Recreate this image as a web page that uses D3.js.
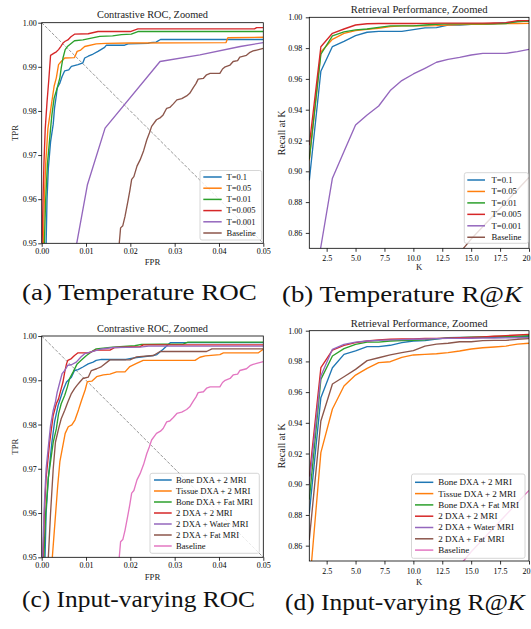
<!DOCTYPE html>
<html><head><meta charset="utf-8">
<script src="https://cdn.jsdelivr.net/npm/d3@7"></script>
<style>body{margin:0;background:#fff;} svg{display:block;} svg text{font-family:"Liberation Serif","Times New Roman",serif;}</style>
</head><body>
<script>
// ---------- DATA ----------
// Panel (a) Temperature ROC: [FPR, TPR]
const rocT01 = [[0.0009,0.94],[0.001,0.95],[0.0012,0.96],[0.0015,0.967],[0.002,0.973],[0.0026,0.977],[0.0029,0.9807],[0.0033,0.9835],[0.0035,0.9852],[0.0041,0.9863],[0.0046,0.9878],[0.0052,0.9891],[0.0061,0.9893],[0.0067,0.9901],[0.0082,0.9905],[0.0093,0.9909],[0.0097,0.992],[0.0105,0.9924],[0.0116,0.9929],[0.0127,0.9935],[0.0142,0.9944],[0.0146,0.9949],[0.0187,0.9949],[0.0195,0.9952],[0.024,0.9953],[0.0245,0.9955],[0.0258,0.9956],[0.0268,0.9962],[0.05,0.9962]];
const rocT005 = [[0.0003,0.94],[0.0004,0.95],[0.0006,0.96],[0.0009,0.968],[0.0014,0.976],[0.0023,0.9822],[0.0028,0.9856],[0.0033,0.9875],[0.0038,0.9905],[0.0044,0.9912],[0.0052,0.992],[0.0074,0.9921],[0.008,0.9935],[0.0088,0.9938],[0.0097,0.9946],[0.0123,0.9952],[0.0145,0.9953],[0.02,0.9954],[0.0416,0.9955],[0.042,0.9966],[0.05,0.9967]];
const rocT001 = [[0.0005,0.94],[0.0006,0.95],[0.0009,0.96],[0.0013,0.968],[0.002,0.976],[0.0023,0.9791],[0.0028,0.9829],[0.0035,0.9852],[0.0041,0.9875],[0.0044,0.9897],[0.0048,0.992],[0.0053,0.9939],[0.0058,0.9946],[0.0074,0.9959],[0.0093,0.9961],[0.0112,0.9965],[0.0131,0.9969],[0.016,0.997],[0.018,0.9973],[0.0202,0.9974],[0.0217,0.998],[0.05,0.998]];
const rocT0005 = [[0,0.94],[0.0001,0.95],[0.0003,0.96],[0.0005,0.968],[0.0008,0.976],[0.0012,0.982],[0.0016,0.987],[0.002,0.9926],[0.0028,0.9931],[0.0033,0.9934],[0.0038,0.9939],[0.0043,0.9946],[0.0048,0.9954],[0.0053,0.9958],[0.0059,0.9961],[0.0066,0.9968],[0.0074,0.9974],[0.0105,0.9975],[0.0127,0.998],[0.02,0.998],[0.0217,0.9986],[0.048,0.9986],[0.0485,0.9989],[0.05,0.9989]];
const rocT0001 = [[0.0075,0.94],[0.0079,0.95],[0.0103,0.9632],[0.0143,0.9761],[0.0267,0.9912],[0.0357,0.9927],[0.0448,0.9946],[0.05,0.9955]];
const rocBaseline = [[0.0172,0.94],[0.0175,0.95],[0.0178,0.9535],[0.0183,0.954],[0.0188,0.9561],[0.0195,0.9598],[0.0199,0.962],[0.0203,0.9645],[0.0208,0.9651],[0.0215,0.9675],[0.0222,0.9689],[0.023,0.971],[0.0237,0.9734],[0.0243,0.975],[0.0248,0.9765],[0.0259,0.978],[0.0268,0.9785],[0.0274,0.9791],[0.0282,0.9806],[0.0289,0.9808],[0.0297,0.9816],[0.0305,0.9825],[0.0316,0.9828],[0.0327,0.9834],[0.0334,0.984],[0.0342,0.9853],[0.0348,0.9862],[0.0353,0.9872],[0.0365,0.9874],[0.0372,0.9882],[0.038,0.9885],[0.0402,0.9885],[0.0408,0.9895],[0.0414,0.99],[0.0425,0.9904],[0.0432,0.9912],[0.0442,0.9914],[0.0447,0.9922],[0.0462,0.9926],[0.047,0.9933],[0.0477,0.9936],[0.0485,0.9938],[0.05,0.9942]];

// Panel (c) Input-varying ROC: [FPR, TPR]
const rocBone2MRI = [[0.0006,0.94],[0.00075,0.95],[0.001,0.96],[0.0015,0.968],[0.0023,0.976],[0.0029,0.9806],[0.0037,0.9843],[0.0048,0.9877],[0.0056,0.9896],[0.0067,0.9907],[0.0074,0.9922],[0.0082,0.9924],[0.0093,0.993],[0.0105,0.9937],[0.0116,0.9941],[0.0123,0.9945],[0.0135,0.9947],[0.019,0.9947],[0.0205,0.995],[0.0252,0.9956],[0.026,0.9958],[0.0274,0.997],[0.029,0.9985],[0.05,0.9985]];
const rocTissue2MRI = [[0.0022,0.94],[0.0024,0.95],[0.003,0.958],[0.0036,0.966],[0.0041,0.9716],[0.0053,0.978],[0.006,0.9795],[0.0068,0.9799],[0.0075,0.981],[0.0083,0.9833],[0.009,0.9855],[0.0098,0.9878],[0.0103,0.9897],[0.0113,0.9898],[0.0124,0.9908],[0.0139,0.9912],[0.0154,0.9914],[0.0169,0.9919],[0.0188,0.9919],[0.0199,0.9931],[0.0214,0.9938],[0.0229,0.9945],[0.0346,0.9945],[0.0357,0.9952],[0.0369,0.9955],[0.0402,0.9958],[0.041,0.9962],[0.0489,0.9962],[0.05,0.997]];
const rocBoneFat = [[0.0004,0.94],[0.0005,0.95],[0.0009,0.96],[0.0015,0.968],[0.0026,0.976],[0.0033,0.979],[0.0038,0.9824],[0.0044,0.9847],[0.0052,0.9866],[0.0058,0.9885],[0.0063,0.9904],[0.0071,0.9919],[0.008,0.9937],[0.0089,0.9945],[0.0101,0.9956],[0.0112,0.9964],[0.0123,0.9971],[0.016,0.9975],[0.021,0.9978],[0.0225,0.9981],[0.032,0.9982],[0.033,0.9986],[0.05,0.9986]];
const roc2DXA2MRI = [[0.0002,0.94],[0.0003,0.95],[0.0006,0.96],[0.001,0.968],[0.0018,0.976],[0.0026,0.9821],[0.0033,0.9847],[0.0038,0.9858],[0.0044,0.9881],[0.0048,0.9896],[0.0052,0.9919],[0.0056,0.9937],[0.0059,0.9945],[0.0067,0.9949],[0.0074,0.9956],[0.0082,0.9962],[0.0105,0.9962],[0.0123,0.9968],[0.0154,0.9968],[0.0165,0.9974],[0.0222,0.9976],[0.0229,0.998],[0.05,0.998]];
const roc2DXAWater = [[0.0001,0.94],[0.0002,0.95],[0.0006,0.962],[0.001,0.97],[0.0016,0.976],[0.002,0.9798],[0.0026,0.9832],[0.0031,0.9851],[0.0035,0.9873],[0.0041,0.9896],[0.0046,0.9915],[0.0052,0.9922],[0.0059,0.9934],[0.0067,0.9935],[0.0078,0.9941],[0.0089,0.9953],[0.0097,0.996],[0.0132,0.997],[0.0162,0.9974],[0.0222,0.9975],[0.0241,0.9977],[0.05,0.9977]];
const roc2DXAFat = [[0.0013,0.94],[0.0015,0.95],[0.002,0.96],[0.0026,0.97],[0.0031,0.976],[0.0038,0.979],[0.0044,0.9813],[0.0052,0.9832],[0.0059,0.9851],[0.0067,0.987],[0.0074,0.9881],[0.008,0.9889],[0.0086,0.9896],[0.0093,0.9904],[0.0105,0.9907],[0.0112,0.9922],[0.0124,0.9926],[0.0135,0.9931],[0.0154,0.9946],[0.0199,0.9946],[0.0214,0.9953],[0.0252,0.9956],[0.0267,0.9965],[0.0372,0.9965],[0.0384,0.9971],[0.05,0.9971]];

// Recall@K panels
const K = [1,2,3,4,5,6,7,8,9,10,11,12,13,14,15,16,17,18,19,20];
const rkT01   = [0.894,0.965,0.981,0.9844,0.9881,0.9903,0.9909,0.9909,0.9909,0.992,0.9931,0.9933,0.995,0.995,0.9955,0.9955,0.996,0.9965,0.9972,0.9976];
const rkT005  = [0.907,0.9775,0.9857,0.9896,0.9913,0.9922,0.9929,0.9939,0.9944,0.9944,0.9944,0.9946,0.995,0.9952,0.9955,0.9955,0.9957,0.9959,0.996,0.9961];
const rkT001  = [0.908,0.976,0.9879,0.9905,0.9918,0.9924,0.9935,0.9944,0.9944,0.9944,0.995,0.9955,0.9957,0.9957,0.9957,0.9957,0.9957,0.996,0.9972,0.9976];
const rkT0005 = [0.917,0.9809,0.9896,0.9924,0.995,0.9958,0.996,0.996,0.996,0.996,0.9961,0.9962,0.9962,0.9962,0.9962,0.9962,0.9963,0.9965,0.9978,0.9978];
const rkT0001 = [0.805,0.851,0.8955,0.9128,0.930,0.9366,0.9424,0.9524,0.9589,0.9632,0.9669,0.9708,0.9727,0.974,0.9755,0.9766,0.9766,0.9766,0.9777,0.9792];
const rkBaseline = [0.6,0.66,0.7,0.73,0.75,0.77,0.785,0.8,0.81,0.82,0.828,0.835,0.841,0.847,0.856,0.864,0.872,0.88,0.888,0.896];

const rkBone2MRI   = [0.881,0.9564,0.9759,0.9846,0.9868,0.9896,0.9896,0.9905,0.9922,0.9933,0.9935,0.9945,0.9955,0.9957,0.9957,0.9957,0.9957,0.9958,0.996,0.9962];
const rkTissue2MRI = [0.832,0.9206,0.949,0.964,0.9711,0.9755,0.9792,0.9798,0.9826,0.9842,0.9846,0.985,0.9857,0.9868,0.9881,0.9889,0.9894,0.99,0.9913,0.9918];
const rkBoneFat    = [0.89,0.9683,0.9835,0.9883,0.9911,0.9926,0.9926,0.9933,0.9935,0.9938,0.994,0.9948,0.9952,0.9954,0.9958,0.996,0.9962,0.9963,0.9965,0.9967];
const rk2DXA2MRI   = [0.905,0.9759,0.9874,0.9905,0.9922,0.9933,0.994,0.9944,0.9946,0.9947,0.9949,0.995,0.9952,0.9955,0.9957,0.996,0.9964,0.9968,0.9972,0.9976];
const rk2DXAWater  = [0.9,0.9705,0.9879,0.9911,0.9926,0.9933,0.9937,0.994,0.9942,0.9944,0.9946,0.9948,0.995,0.995,0.9951,0.9952,0.9952,0.9953,0.9954,0.9955];
const rk2DXAFat    = [0.8637,0.9412,0.9653,0.970,0.9748,0.9805,0.9824,0.9842,0.9857,0.987,0.99,0.9913,0.9918,0.9928,0.9928,0.9935,0.9937,0.9937,0.9944,0.9948];

// Labels & ticks
const tempLabels  = ["T=0.1","T=0.05","T=0.01","T=0.005","T=0.001","Baseline"];
const inputLabels = ["Bone DXA + 2 MRI","Tissue DXA + 2 MRI","Bone DXA + Fat MRI","2 DXA + 2 MRI","2 DXA + Water MRI","2 DXA + Fat MRI","Baseline"];
const rocXTicks = [0,0.01,0.02,0.03,0.04,0.05];
const rocYTicks = [0.95,0.96,0.97,0.98,0.99,1.00];
const rkXTicks  = [2.5,5,7.5,10,12.5,15,17.5,20];
const rkYTicks  = [0.86,0.88,0.90,0.92,0.94,0.96,0.98,1.00];
const captions  = ["(a) Temperature ROC","(b) Temperature R@","(c) Input-varying ROC","(d) Input-varying R@"];

const tab = ["#1f77b4","#ff7f0e","#2ca02c","#d62728","#9467bd","#8c564b","#e377c2"];

// ---------- DRAW ----------
const svg = d3.select("body").append("svg").attr("width",531).attr("height",629);
svg.append("rect").attr("width",531).attr("height",629).attr("fill","#fff");
const defs = svg.append("defs");

const zip = vals => K.map((k,i)=>[k, vals[i]]);

function drawPanel(p){
  const x = d3.scaleLinear().domain(p.xDomain).range([p.left,p.right]);
  const y = d3.scaleLinear().domain(p.yDomain).range([p.bottom,p.top]);
  const g = svg.append("g");
  defs.append("clipPath").attr("id","clip"+p.id).append("rect")
    .attr("x",p.left).attr("y",p.top).attr("width",p.right-p.left).attr("height",p.bottom-p.top);
  const plot = g.append("g").attr("clip-path",`url(#clip${p.id})`);
  if(p.diagonal){
    plot.append("line").attr("x1",x(0)).attr("y1",y(1)).attr("x2",x(0.05)).attr("y2",y(0.95))
      .attr("stroke","#8c8c8c").attr("stroke-width",0.9).attr("stroke-dasharray","3.2,1.6");
  }
  const line = d3.line().x(d=>x(d[0])).y(d=>y(d[1]));
  p.series.forEach((s,i)=>{
    plot.append("path").datum(s).attr("d",line).attr("fill","none")
      .attr("stroke",p.colors[i]).attr("stroke-width",1.35).attr("stroke-linejoin","round");
  });
  const xa = d3.axisBottom(x).tickValues(p.xTicks).tickFormat(d3.format(p.xFmt)).tickSize(3.5).tickSizeOuter(0).tickPadding(p.xPad);
  const ya = d3.axisLeft(y).tickValues(p.yTicks).tickFormat(d3.format(".2f")).tickSize(3.5).tickSizeOuter(0).tickPadding(p.yPad);
  const gx = g.append("g").attr("transform",`translate(0,${p.bottom})`).call(xa);
  const gy = g.append("g").attr("transform",`translate(${p.left},0)`).call(ya);
  [gx,gy].forEach(a=>{
    a.attr("font-family",null).attr("font-size",null);
    a.select(".domain").remove();
    a.selectAll("line").attr("stroke","#000").attr("stroke-width",0.8);
    a.selectAll("text").attr("fill","#000").style("font-size","8px");
  });
  g.append("rect").attr("x",p.left).attr("y",p.top).attr("width",p.right-p.left).attr("height",p.bottom-p.top)
    .attr("fill","none").attr("stroke","#000").attr("stroke-width",0.8);
  g.append("text").attr("x",(p.left+p.right)/2).attr("y",p.titleY).attr("dy","0.35em")
    .attr("text-anchor","middle").style("font-size","9.6px").attr("fill","#222")
    .attr("textLength",p.titleW).attr("lengthAdjust","spacingAndGlyphs").text(p.title);
  g.append("text").attr("x",(p.left+p.right)/2).attr("y",p.xLabelY).attr("dy","0.35em")
    .attr("text-anchor","middle").style("font-size","8.8px").attr("fill","#222").text(p.xLabel);
  g.append("text").attr("transform",`translate(${p.yLabelX},${(p.top+p.bottom)/2}) rotate(-90)`)
    .attr("dy","0.35em").attr("text-anchor","middle").style("font-size",p.yLabelSize+"px").attr("fill","#222").text(p.yLabel);
  const L = p.legend;
  const lg = g.append("g");
  lg.append("rect").attr("x",L.x).attr("y",L.y).attr("width",L.w).attr("height",L.h).attr("rx",2)
    .attr("fill","#fff").attr("fill-opacity",0.8).attr("stroke","#cccccc").attr("stroke-width",0.8);
  p.labels.forEach((lab,i)=>{
    const ry = L.row0 + i*L.dy;
    lg.append("line").attr("x1",L.lx0).attr("x2",L.lx1).attr("y1",ry).attr("y2",ry)
      .attr("stroke",p.colors[i]).attr("stroke-width",1.5);
    lg.append("text").attr("x",L.tx).attr("y",ry).attr("dy","0.33em").style("font-size",L.fs+"px")
      .attr("fill","#111").text(lab);
  });
}

drawPanel({id:"a",left:41.7,right:263.3,top:22.7,bottom:243.3,xDomain:[0,0.05],yDomain:[0.95,1.0],
  xTicks:rocXTicks,yTicks:rocYTicks,xFmt:".2f",xPad:2,yPad:1.5,diagonal:true,
  series:[rocT01,rocT005,rocT001,rocT0005,rocT0001,rocBaseline],colors:tab.slice(0,6),labels:tempLabels,
  title:"Contrastive ROC, Zoomed",titleY:14.7,titleW:111,xLabel:"FPR",xLabelY:262,yLabel:"TPR",yLabelX:15,yLabelSize:8.8,
  legend:{x:200,y:170.5,w:61.7,h:69.5,row0:177,dy:11.2,lx0:203.3,lx1:221.7,tx:226.5,fs:8.5}});

drawPanel({id:"b",left:309.3,right:529,top:17.3,bottom:248.3,xDomain:[1,20],yDomain:[0.85,1.0],
  xTicks:rkXTicks,yTicks:rkYTicks,xFmt:".1f",xPad:4,yPad:3.5,diagonal:false,
  series:[rkT01,rkT005,rkT001,rkT0005,rkT0001,rkBaseline].map(zip),colors:tab.slice(0,6),labels:tempLabels,
  title:"Retrieval Performance, Zoomed",titleY:9.3,titleW:136.7,xLabel:"K",xLabelY:267,yLabel:"Recall at K",yLabelX:281.7,yLabelSize:10,
  legend:{x:464.3,y:172.7,w:64,h:70.6,row0:180,dy:11.45,lx0:467.3,lx1:485,tx:491.5,fs:8.7}});

drawPanel({id:"c",left:41.7,right:263.3,top:336,bottom:557.3,xDomain:[0,0.05],yDomain:[0.95,1.0],
  xTicks:rocXTicks,yTicks:rocYTicks,xFmt:".2f",xPad:2,yPad:1.5,diagonal:true,
  series:[rocBone2MRI,rocTissue2MRI,rocBoneFat,roc2DXA2MRI,roc2DXAWater,roc2DXAFat,rocBaseline],colors:tab,labels:inputLabels,
  title:"Contrastive ROC, Zoomed",titleY:328.3,titleW:111,xLabel:"FPR",xLabelY:576.7,yLabel:"TPR",yLabelX:15,yLabelSize:8.8,
  legend:{x:150,y:473.3,w:109.3,h:80,row0:480,dy:11,lx0:154,lx1:171.7,tx:176,fs:8.6}});

drawPanel({id:"d",left:309.3,right:529,top:330.7,bottom:561,xDomain:[1,20],yDomain:[0.85,1.0],
  xTicks:rkXTicks,yTicks:rkYTicks,xFmt:".1f",xPad:4,yPad:3.5,diagonal:false,
  series:[rkBone2MRI,rkTissue2MRI,rkBoneFat,rk2DXA2MRI,rk2DXAWater,rk2DXAFat,rkBaseline].map(zip),colors:tab,labels:inputLabels,
  title:"Retrieval Performance, Zoomed",titleY:323.3,titleW:136.7,xLabel:"K",xLabelY:582,yLabel:"Recall at K",yLabelX:281.7,yLabelSize:10,
  legend:{x:411.5,y:474,w:113.5,h:84.3,row0:482.3,dy:11.3,lx0:415,lx1:433.3,tx:438.3,fs:9}});

const capPos = [{x:22,y:299.5,w:235},{x:282,y:301.5,w:240},{x:22,y:607,w:233},{x:285,y:609.5,w:240}];
captions.forEach((c,i)=>{
  const P = capPos[i];
  const g = svg.append("g");
  const t = g.append("text").attr("x",0).attr("y",0).style("font-size","24px").attr("fill","#111");
  t.append("tspan").text(c);
  if(i===1||i===3) t.append("tspan").style("font-style","italic").text("K");
  const w = t.node().getComputedTextLength();
  g.attr("transform",`translate(${P.x},${P.y}) scale(${P.w/w},1)`);
});
</script>
</body></html>
